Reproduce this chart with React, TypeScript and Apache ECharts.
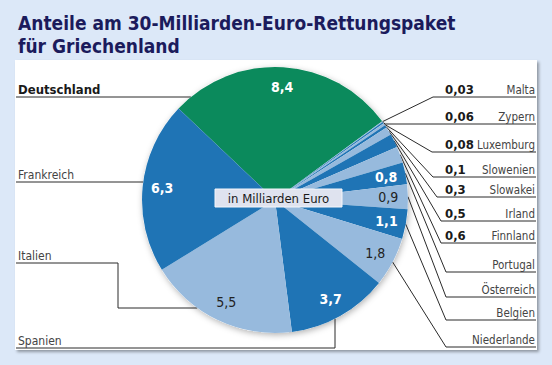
import React, { useEffect, useRef } from 'react';
import * as echarts from 'echarts';

// ---- data ----
const names = ['Deutschland', 'Malta', 'Zypern', 'Luxemburg', 'Slowenien', 'Slowakei', 'Irland', 'Finnland', 'Portugal', 'Österreich', 'Belgien', 'Niederlande', 'Spanien', 'Italien', 'Frankreich'];
const values = [8.4, 0.03, 0.06, 0.08, 0.1, 0.3, 0.5, 0.6, 0.8, 0.9, 1.1, 1.8, 3.7, 5.5, 6.3];
const title = 'Anteile am 30-Milliarden-Euro-Rettungspaket\nfür Griechenland';
const unitLabel = 'in Milliarden Euro';

// ---- layout / style ----
const FONT = "'DejaVu Sans Condensed', 'Liberation Sans', sans-serif";
const GREEN = '#0b8a5c';
const DARK = '#1f74b5';
const LIGHT = '#97badd';
const colorKinds = ['G', 'L', 'D', 'L', 'D', 'L', 'D', 'L', 'D', 'L', 'D', 'L', 'D', 'L', 'D'];
const colorOf = (k: string) => (k === 'G' ? GREEN : k === 'D' ? DARK : LIGHT);
const CX = 275, CY = 200, R = 133;
const START = 136.5;
const RIGHT_END = 536;
const LEFT_X = 16;

// right-hand rows: underline y and underline start x (null: start at slice edge)
const rightRows: Record<string, [number, number | null]> = {
  Malta: [97, 433],
  Zypern: [124, null],
  Luxemburg: [152, 432],
  Slowenien: [177, 433],
  Slowakei: [197, 437],
  Irland: [221, 441],
  Finnland: [243, 441],
  Portugal: [272, 446],
  'Österreich': [297, 446],
  Belgien: [320, 446],
  Niederlande: [347, 446],
};
const leftRows: Record<string, number> = { Deutschland: 97, Frankreich: 182, Italien: 263, Spanien: 348 };

const fmt = (v: number) => String(v).replace('.', ',');
const edgeXLeft = (y: number) => CX - Math.sqrt(R * R - (y - CY) * (y - CY));
const edgeYBottom = (x: number) => CY + Math.sqrt(R * R - (x - CX) * (x - CX));

export default function App() {
  const ref = useRef<HTMLDivElement>(null);
  useEffect(() => {
    if (!ref.current) return;
    const chart = echarts.init(ref.current, null, { renderer: 'svg' });
    const data = names.map((n, i) => ({ name: n, value: values[i], itemStyle: { color: colorOf(colorKinds[i]) } }));
    const option: any = {
      animation: false,
      backgroundColor: '#dce8f8',
      title: {
        text: title,
        left: 13,
        top: 6,
        textStyle: { fontFamily: FONT, fontSize: 19, fontWeight: 'bold', color: '#1b1b5c', lineHeight: 23 },
      },
      graphic: [
        {
          type: 'rect', z: -10,
          shape: { x: 15, y: 60, width: 522, height: 290 },
          style: { fill: '#ffffff', shadowBlur: 3, shadowOffsetX: 2, shadowOffsetY: 2, shadowColor: 'rgba(0,0,0,0.35)' },
        },
        {
          type: 'circle', z: -5,
          shape: { cx: CX, cy: CY, r: R },
          style: { fill: '#ffffff', shadowBlur: 6, shadowOffsetX: 1, shadowOffsetY: 2, shadowColor: 'rgba(0,0,0,0.3)' },
        },
        {
          type: 'rect', z: 100,
          shape: { x: 215, y: 189, width: 127, height: 18 },
          style: { fill: '#dfe3ef', stroke: '#f4f6fb', lineWidth: 1 },
        },
        {
          type: 'text', z: 101,
          x: 278.5, y: 198,
          style: { text: unitLabel, fontFamily: FONT, fontSize: 13, fill: '#1a1a1a', align: 'center', verticalAlign: 'middle' },
        },
      ],
      series: [
        {
          type: 'pie',
          center: [CX, CY],
          radius: [0, R],
          startAngle: START,
          clockwise: true,
          silent: true,
          avoidLabelOverlap: false,
          emphasis: { disabled: true },
          data,
          label: {
            show: true,
            position: 'outside',
            fontFamily: FONT,
            formatter: (p: any) => {
              const n = p.name;
              if (leftRows[n] != null) return n === 'Deutschland' ? `{lb|${n}}` : `{l|${n}}`;
              if (p.value < 0.8) return `{v|${fmt(p.value)}}{n|${n}}`;
              return `{m|${n}}`;
            },
            rich: {
              lb: { fontFamily: FONT, fontSize: 13, fontWeight: 'bold', color: '#1a1a1a' },
              l: { fontFamily: FONT, fontSize: 12, color: '#444' },
              v: { fontFamily: FONT, fontSize: 13, fontWeight: 'bold', color: '#1a1a1a', width: 30 },
              n: { fontFamily: FONT, fontSize: 11.5, color: '#444', width: 60, align: 'right' },
              m: { fontFamily: FONT, fontSize: 11.5, color: '#444', width: 90, align: 'right' },
            },
          },
          labelLine: { show: true, length: 8, length2: 8, smooth: false, lineStyle: { color: '#2a2a2a', width: 1 } },
          labelLayout: (p: any) => {
            const n = names[p.dataIndex];
            const edge = p.labelLinePoints ? p.labelLinePoints[0] : [CX, CY];
            if (leftRows[n] != null) {
              const y = leftRows[n];
              let pts: number[][];
              if (n === 'Italien') {
                pts = [[LEFT_X, y], [118, y], [118, 308], [edgeXLeft(308), 308]];
              } else if (n === 'Spanien') {
                pts = [[LEFT_X, y], [335, y], [335, edgeYBottom(335)]];
              } else {
                pts = [[LEFT_X, y], [edgeXLeft(y), y]];
              }
              return { x: 18, y: y - 1, align: 'left', verticalAlign: 'bottom', labelLinePoints: pts };
            }
            const row = rightRows[n];
            const ly = row[0];
            const lx = row[1] == null ? edge[0] + 2 : row[1];
            return {
              x: 445, y: ly - 1, align: 'left', verticalAlign: 'bottom',
              labelLinePoints: [[edge[0], edge[1]], [lx, ly], [RIGHT_END, ly]],
            };
          },
        },
        {
          type: 'pie',
          center: [CX, CY],
          radius: [R * 0.66, R],
          startAngle: START,
          clockwise: true,
          silent: true,
          emphasis: { disabled: true },
          labelLine: { show: false },
          data: names.map((n, i) => {
            const light = colorKinds[i] === 'L';
            return {
              name: n,
              value: values[i],
              itemStyle: { color: 'rgba(0,0,0,0)' },
              label: {
                show: values[i] >= 0.8,
                color: light ? '#222' : '#ffffff',
                fontWeight: light ? 'normal' : 'bold',
              },
            };
          }),
          label: {
            position: 'inside',
            fontFamily: FONT,
            fontSize: 14,
            formatter: (p: any) => fmt(p.value),
          },
        },
      ],
    };
    chart.setOption(option);
    return () => chart.dispose();
  }, []);
  return <div ref={ref} style={{ position: 'fixed', left: 0, top: 0, width: 552, height: 365 }} />;
}
